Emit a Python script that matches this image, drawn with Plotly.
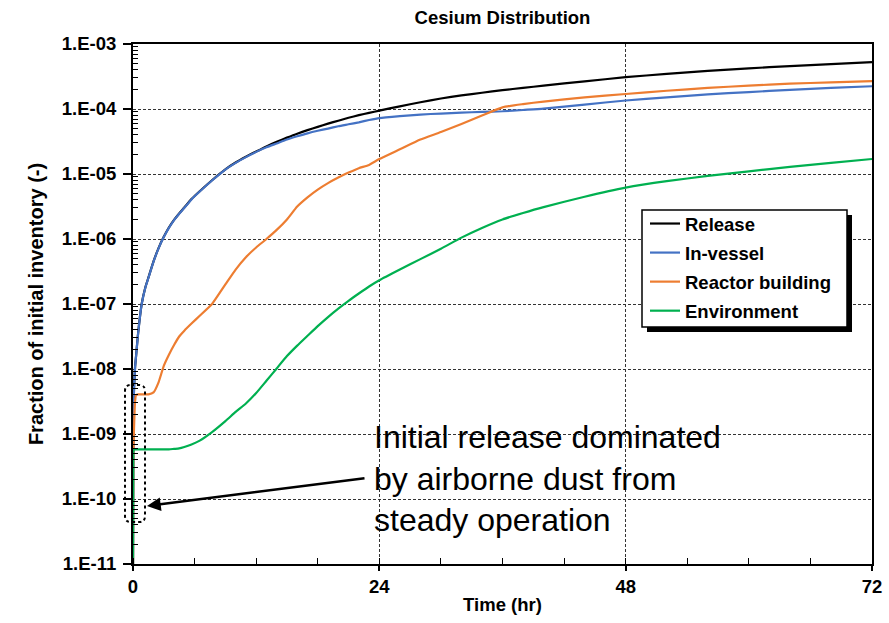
import plotly.graph_objects as go

# ---------------- data ----------------
time_hr = [0, 0.02, 0.05, 0.1, 0.2, 0.3, 0.5, 0.85, 1.2, 1.5, 2.0, 2.5, 3.0, 3.5, 4.0, 4.5,
           5, 5.7, 6.5, 7.7, 9, 10, 11, 12, 13, 14, 15, 16, 17, 18, 19, 20, 21, 22, 23, 24,
           26, 28, 30, 32, 34, 36, 38, 40, 44, 48, 52, 56, 60, 64, 68, 72]

release = [1e-11, 6.4e-10, 2.02e-9, 5.05e-9, 1.06e-8, 1.6e-8, 3.58e-8, 1.01e-7, 1.8e-7, 2.54e-7,
           4.52e-7, 7.31e-7, 1.08e-6, 1.5e-6, 1.97e-6, 2.47e-6, 3.05e-6, 4.11e-6, 5.42e-6, 8.02e-6,
           1.18e-5, 1.5e-5, 1.84e-5, 2.22e-5, 2.66e-5, 3.13e-5, 3.63e-5, 4.17e-5, 4.73e-5, 5.31e-5,
           5.96e-5, 6.61e-5, 7.33e-5, 8.04e-5, 8.71e-5, 9.44e-5, 1.10e-4, 1.27e-4, 1.45e-4, 1.62e-4,
           1.78e-4, 1.95e-4, 2.11e-4, 2.29e-4, 2.66e-4, 3.09e-4, 3.47e-4, 3.85e-4, 4.22e-4, 4.57e-4,
           4.9e-4, 5.25e-4]

in_vessel = [1e-11, 6.3e-10, 2.0e-9, 5.0e-9, 1.05e-8, 1.58e-8, 3.55e-8, 1.0e-7, 1.78e-7, 2.51e-7,
             4.47e-7, 7.24e-7, 1.07e-6, 1.48e-6, 1.95e-6, 2.45e-6, 3.02e-6, 4.07e-6, 5.37e-6, 7.94e-6,
             1.17e-5, 1.48e-5, 1.82e-5, 2.19e-5, 2.57e-5, 2.95e-5, 3.39e-5, 3.8e-5, 4.22e-5, 4.62e-5,
             5.0e-5, 5.43e-5, 5.82e-5, 6.24e-5, 6.76e-5, 7.24e-5, 7.76e-5, 8.22e-5, 8.51e-5, 8.81e-5,
             9.02e-5, 9.23e-5, 9.66e-5, 1.01e-4, 1.17e-4, 1.35e-4, 1.51e-4, 1.68e-4, 1.82e-4, 1.97e-4,
             2.11e-4, 2.24e-4]

reactor_building = [1e-11, 3.16e-10, 6.3e-10, 1.26e-9, 3.16e-9, 3.98e-9, 4.07e-9, 4.07e-9, 4.07e-9, 4.07e-9,
                    4.37e-9, 6.3e-9, 1.12e-8, 1.66e-8, 2.34e-8, 3.16e-8, 3.89e-8, 5.0e-8, 6.6e-8, 1.0e-7,
                    2.0e-7, 3.39e-7, 5.25e-7, 7.41e-7, 1.0e-6, 1.38e-6, 2.0e-6, 3.16e-6, 4.37e-6, 5.75e-6,
                    7.24e-6, 8.81e-6, 1.05e-5, 1.23e-5, 1.38e-5, 1.70e-5, 2.4e-5, 3.39e-5, 4.42e-5, 5.89e-5,
                    7.94e-5, 1.06e-4, 1.19e-4, 1.30e-4, 1.51e-4, 1.70e-4, 1.91e-4, 2.11e-4, 2.29e-4, 2.45e-4,
                    2.57e-4, 2.69e-4]

environment = [1e-11, 2.5e-10, 5.6e-10, 5.8e-10, 5.8e-10, 5.8e-10, 5.8e-10, 5.8e-10, 5.8e-10, 5.8e-10,
               5.8e-10, 5.8e-10, 5.8e-10, 5.8e-10, 5.9e-10, 6.0e-10, 6.3e-10, 6.9e-10, 7.9e-10, 1.07e-9,
               1.58e-9, 2.19e-9, 2.95e-9, 4.27e-9, 6.6e-9, 1.02e-8, 1.58e-8, 2.29e-8, 3.24e-8, 4.57e-8,
               6.3e-8, 8.5e-8, 1.12e-7, 1.45e-7, 1.86e-7, 2.32e-7, 3.39e-7, 4.9e-7, 7.08e-7, 1.05e-6,
               1.48e-6, 2.0e-6, 2.51e-6, 3.09e-6, 4.47e-6, 6.17e-6, 7.76e-6, 9.33e-6, 1.10e-5, 1.29e-5,
               1.48e-5, 1.70e-5]

series_names = ["Release", "In-vessel", "Reactor building", "Environment"]
series_colors = ["#000000", "#4472C4", "#ED7D31", "#00B050"]

y_tick_values = [1e-11, 1e-10, 1e-9, 1e-8, 1e-7, 1e-6, 1e-5, 1e-4, 1e-3]
y_tick_labels = ["1.E-11", "1.E-10", "1.E-09", "1.E-08", "1.E-07", "1.E-06", "1.E-05", "1.E-04", "1.E-03"]
x_tick_values = [0, 24, 48, 72]
x_tick_labels = ["0", "24", "48", "72"]

# ---------------- figure ----------------
W, H = 889, 623
L, R, T, B = 133, 17, 44, 59
PW, PH = W - L - R, H - T - B

def px_x(px):
    return (px - L) / PW

def px_y(py):
    return 1 - (py - T) / PH

FONT = "Liberation Sans, Arial, sans-serif"

fig = go.Figure()
for name, vals, col in zip(series_names, [release, in_vessel, reactor_building, environment], series_colors):
    fig.add_trace(go.Scatter(x=time_hr, y=vals, mode="lines", name=name,
                             legendgroup=name,
                             line=dict(color=col, width=2.2, shape="spline", smoothing=0.5)))

minor_y = [k * 10.0 ** e for e in range(-11, -3) for k in range(2, 10)]

fig.update_layout(
    width=W, height=H,
    margin=dict(l=L, r=R, t=T, b=B, autoexpand=False),
    paper_bgcolor="white", plot_bgcolor="white",
    font=dict(family=FONT, color="black"),
    title=dict(text="<b>Cesium Distribution</b>", x=0.5, xref="paper", xanchor="center",
               y=1 - 18 / H, yref="container", yanchor="middle",
               font=dict(size=18.5, family=FONT, color="black")),
    showlegend=True,
    legend=dict(x=px_x(645), y=px_y(205), xanchor="left", yanchor="top",
                bgcolor="rgba(0,0,0,0)", borderwidth=0,
                font=dict(size=18.5, family=FONT, color="black", weight="bold"),
                tracegroupgap=2, itemwidth=30),
    xaxis=dict(range=[0, 72], tickvals=x_tick_values, ticktext=x_tick_labels,
               automargin=False,
               showline=True, linecolor="black", linewidth=2, mirror=True,
               ticks="outside", ticklen=5, tickwidth=1.5, tickcolor="black",
               ticklabelstandoff=0,
               tickfont=dict(size=18.5, family=FONT, weight="bold"),
               showgrid=True, gridcolor="#333333", gridwidth=1, griddash="3px,2px",
               minor=dict(dtick=6, ticks="inside", ticklen=6, tickcolor="black", tickwidth=1, showgrid=False),
               zeroline=False,
               title=dict(text="<b>Time (hr)</b>", font=dict(size=18.5, family=FONT), standoff=2)),
    yaxis=dict(type="log", range=[-11, -3], tickvals=y_tick_values, ticktext=y_tick_labels,
               automargin=False,
               showline=True, linecolor="black", linewidth=2, mirror=True,
               ticks="outside", ticklen=8, tickwidth=1.5, tickcolor="black",
               ticklabelstandoff=3,
               tickfont=dict(size=18.5, family=FONT, weight="bold"),
               showgrid=True, gridcolor="#333333", gridwidth=1, griddash="3px,2px",
               minor=dict(tickvals=minor_y, ticks="inside", ticklen=5, tickcolor="black", tickwidth=1, showgrid=False),
               zeroline=False,
               title=dict(text="<b>Fraction of initial inventory (-)</b>", font=dict(size=20, family=FONT), standoff=13)),
)

# legend frame with drop shadow
fig.add_shape(type="rect", xref="paper", yref="paper",
              x0=px_x(647), x1=px_x(852), y0=px_y(332), y1=px_y(215),
              fillcolor="black", line=dict(width=0), layer="above")
fig.add_shape(type="rect", xref="paper", yref="paper",
              x0=px_x(642), x1=px_x(847), y0=px_y(327), y1=px_y(210),
              fillcolor="white", line=dict(color="black", width=1.5), layer="above")

# white box behind the callout text
fig.add_shape(type="rect", xref="paper", yref="paper",
              x0=px_x(352), x1=px_x(752), y0=px_y(545), y1=px_y(410),
              fillcolor="white", line=dict(width=0), layer="between")

# dotted rounded rectangle around the initial release
x0, x1, y0, y1, r = px_x(125), px_x(145), px_y(522), px_y(385), 0.008
ry = r * PW / PH
path = (f"M {x0 + r},{y1} L {x1 - r},{y1} Q {x1},{y1} {x1},{y1 - ry} "
        f"L {x1},{y0 + ry} Q {x1},{y0} {x1 - r},{y0} L {x0 + r},{y0} Q {x0},{y0} {x0},{y0 + ry} "
        f"L {x0},{y1 - ry} Q {x0},{y1} {x0 + r},{y1} Z")
fig.add_shape(type="path", xref="paper", yref="paper", path=path,
              line=dict(color="black", width=2, dash="dot"), layer="above")

# callout text
fig.add_annotation(xref="paper", yref="paper", x=px_x(372), y=px_y(478),
                   xanchor="left", yanchor="middle", align="left", showarrow=False,
                   text="Initial release dominated<br>by airborne dust from<br>steady operation",
                   font=dict(size=32, family=FONT, color="black"))

# arrow
fig.add_annotation(xref="paper", yref="paper", x=px_x(147), y=px_y(506),
                   ax=366 - 147, ay=478 - 506, axref="pixel", ayref="pixel",
                   text="", showarrow=True, arrowhead=2, arrowsize=1.1, arrowwidth=2.5,
                   arrowcolor="black")

fig.write_html("out.html", config={"displayModeBar": False},
               post_script="document.body.style.margin='0px';")
